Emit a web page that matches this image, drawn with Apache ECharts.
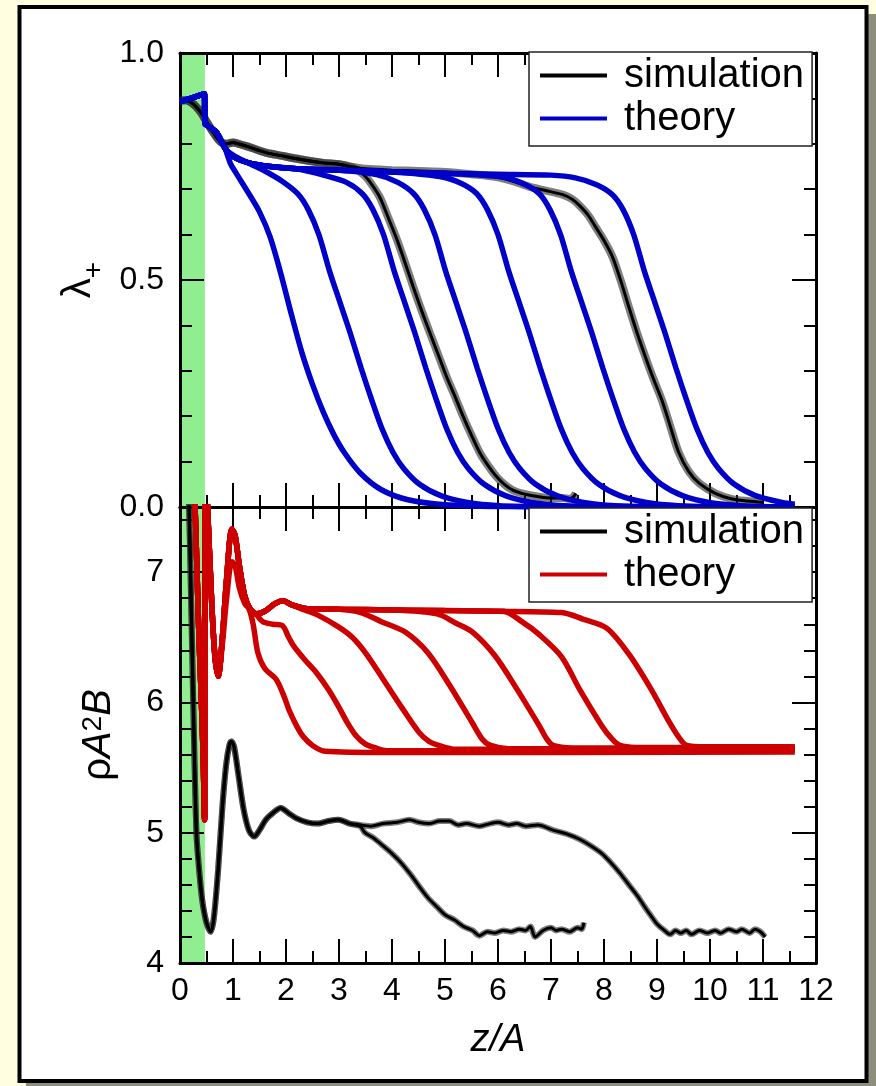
<!DOCTYPE html>
<html lang="en">
<head>
<meta charset="UTF-8">
<title>lambda+ and density profiles</title>
<script src="https://cdn.jsdelivr.net/npm/echarts@6/dist/echarts.min.js"></script>
<style>html,body{margin:0;padding:0;background:#fffee0;}</style>
</head>
<body>
<div id="main" style="width:876px;height:1086px;"></div>
<script>
// axis ticks and labels
const zRange = [0, 12];
const zTickLabels = ['0','1','2','3','4','5','6','7','8','9','10','11','12'];
const lamTickValues = [0, 0.5, 1.0];
const lamTickLabels = ['0.0', '0.5', '1.0'];
const rhoTickValues = [4, 5, 6, 7];
const rhoTickLabels = ['4', '5', '6', '7'];
const wallZ = [0, 0.47];

// upper panel: lambda+ , simulation (two runs)
const lamSim1 = [[0,0.895],[0.1,0.896],[0.2,0.892],[0.3,0.882],[0.4,0.868],[0.47,0.855],[0.6,0.83],[0.75,0.806],[0.88,0.8],[1.0,0.803],[1.1,0.8],[1.25,0.795],[1.45,0.787],[1.64,0.78],[1.9,0.774],[2.26,0.766],[2.7,0.758],[3.0,0.755],[3.2,0.75],[3.35,0.742],[3.5,0.728],[3.65,0.705],[3.78,0.68],[3.93,0.637],[4.09,0.59],[4.25,0.537],[4.4,0.485],[4.56,0.432],[4.72,0.382],[4.88,0.333],[5.03,0.287],[5.19,0.243],[5.34,0.2],[5.5,0.158],[5.66,0.119],[5.82,0.09],[5.97,0.067],[6.12,0.05],[6.28,0.037],[6.45,0.03],[6.6,0.026],[6.8,0.022],[7.0,0.02],[7.22,0.02],[7.35,0.018],[7.42,0.022],[7.47,0.03]];
const lamSim2 = [[0,0.895],[0.1,0.896],[0.2,0.892],[0.3,0.882],[0.4,0.868],[0.47,0.855],[0.6,0.83],[0.75,0.806],[0.88,0.8],[1.0,0.803],[1.1,0.8],[1.25,0.795],[1.45,0.787],[1.64,0.78],[1.9,0.774],[2.26,0.766],[2.7,0.758],[3.0,0.755],[3.2,0.75],[3.5,0.745],[4.0,0.742],[4.5,0.74],[5.0,0.738],[5.5,0.733],[5.97,0.727],[6.3,0.717],[6.6,0.705],[6.9,0.697],[7.22,0.688],[7.4,0.678],[7.53,0.665],[7.7,0.643],[7.84,0.617],[8.0,0.587],[8.16,0.551],[8.32,0.497],[8.47,0.44],[8.62,0.385],[8.78,0.331],[8.93,0.283],[9.09,0.236],[9.25,0.178],[9.41,0.12],[9.6,0.078],[9.8,0.052],[10.1,0.03],[10.4,0.018],[10.7,0.013],[11.0,0.01]];

// upper panel: lambda+ , theory (seven runs)
const lamTh1 = [[0,0.893],[0.2,0.9],[0.38,0.907],[0.46,0.91],[0.47,0.845],[0.55,0.838],[0.69,0.825],[0.85,0.79],[0.95,0.757],[1.05,0.737],[1.3,0.69],[1.5,0.65],[1.7,0.595],[1.9,0.515],[2.1,0.425],[2.3,0.34],[2.5,0.27],[2.7,0.21],[2.9,0.16],[3.1,0.12],[3.4,0.075],[3.8,0.038],[4.3,0.016],[5.0,0.005],[6.0,0.001],[8,0],[11.6,0]];
const lamTh2 = [[0,0.893],[0.2,0.9],[0.38,0.907],[0.46,0.91],[0.47,0.845],[0.55,0.838],[0.69,0.825],[0.85,0.79],[1.0,0.775],[1.3,0.757],[1.6,0.74],[1.92,0.718],[2.22,0.69],[2.42,0.655],[2.62,0.6],[2.82,0.52],[3.02,0.45],[3.22,0.38],[3.42,0.305],[3.62,0.235],[3.82,0.17],[4.02,0.12],[4.22,0.085],[4.52,0.05],[4.92,0.025],[5.42,0.01],[6.02,0.003],[7.0,0.001],[8,0],[11.6,0]];
const lamTh3 = [[0,0.893],[0.2,0.9],[0.38,0.907],[0.46,0.91],[0.47,0.845],[0.55,0.838],[0.69,0.825],[0.85,0.79],[1.0,0.772],[1.3,0.758],[1.7,0.75],[2.2,0.745],[2.74,0.73],[3.14,0.715],[3.44,0.69],[3.64,0.655],[3.84,0.6],[4.04,0.52],[4.24,0.45],[4.44,0.38],[4.64,0.305],[4.84,0.235],[5.04,0.17],[5.24,0.12],[5.44,0.085],[5.74,0.05],[6.14,0.025],[6.64,0.01],[7.24,0.003],[8.5,0],[11.6,0]];
const lamTh4 = [[0,0.893],[0.2,0.9],[0.38,0.907],[0.46,0.91],[0.47,0.845],[0.55,0.838],[0.69,0.825],[0.85,0.79],[1.0,0.772],[1.3,0.758],[1.7,0.75],[2.2,0.745],[3.0,0.742],[3.71,0.732],[4.11,0.715],[4.41,0.69],[4.61,0.655],[4.81,0.6],[5.01,0.52],[5.21,0.45],[5.41,0.38],[5.61,0.305],[5.81,0.235],[6.01,0.17],[6.21,0.12],[6.41,0.085],[6.71,0.05],[7.11,0.025],[7.61,0.01],[8.21,0.003],[9.5,0],[11.6,0]];
const lamTh5 = [[0,0.893],[0.2,0.9],[0.38,0.907],[0.46,0.91],[0.47,0.845],[0.55,0.838],[0.69,0.825],[0.85,0.79],[1.0,0.772],[1.3,0.758],[1.7,0.75],[2.2,0.745],[3.0,0.742],[4.0,0.738],[4.9,0.728],[5.3,0.713],[5.6,0.69],[5.8,0.655],[6.0,0.6],[6.2,0.52],[6.4,0.45],[6.6,0.38],[6.8,0.305],[7.0,0.235],[7.2,0.17],[7.4,0.12],[7.6,0.085],[7.9,0.05],[8.3,0.025],[8.8,0.01],[9.4,0.003],[10.5,0],[11.6,0]];
const lamTh6 = [[0,0.893],[0.2,0.9],[0.38,0.907],[0.46,0.91],[0.47,0.845],[0.55,0.838],[0.69,0.825],[0.85,0.79],[1.0,0.772],[1.3,0.758],[1.7,0.75],[2.2,0.745],[3.0,0.742],[4.0,0.738],[5.0,0.735],[6.08,0.727],[6.48,0.712],[6.78,0.69],[6.98,0.655],[7.18,0.6],[7.38,0.52],[7.58,0.45],[7.78,0.38],[7.98,0.305],[8.18,0.235],[8.38,0.17],[8.58,0.12],[8.78,0.085],[9.08,0.05],[9.48,0.025],[9.98,0.01],[10.58,0.003],[11.6,0]];
const lamTh7 = [[0,0.893],[0.2,0.9],[0.38,0.907],[0.46,0.91],[0.47,0.845],[0.55,0.838],[0.69,0.825],[0.85,0.79],[1.0,0.772],[1.3,0.758],[1.7,0.75],[2.2,0.745],[3.0,0.742],[4.0,0.738],[5.0,0.735],[6.0,0.733],[7.0,0.731],[7.46,0.725],[7.86,0.71],[8.16,0.688],[8.36,0.655],[8.56,0.6],[8.76,0.52],[8.96,0.45],[9.16,0.38],[9.36,0.305],[9.56,0.235],[9.76,0.17],[9.96,0.12],[10.16,0.085],[10.46,0.05],[10.86,0.025],[11.36,0.01],[11.6,0.006]];

// lower panel: rho A^2 B , simulation (two runs)
const rhoSim1 = [[0.16,7.7],[0.19,7.18],[0.25,6.0],[0.31,5.0],[0.36,4.72],[0.42,4.48],[0.5,4.31],[0.58,4.24],[0.64,4.35],[0.72,4.72],[0.8,5.2],[0.87,5.52],[0.93,5.67],[0.97,5.7],[1.02,5.66],[1.1,5.45],[1.2,5.18],[1.3,5.02],[1.4,4.97],[1.5,5.02],[1.62,5.1],[1.75,5.15],[1.9,5.19],[2.05,5.15],[2.2,5.11],[2.4,5.08],[2.6,5.07],[2.8,5.09],[2.99,5.1],[3.2,5.07],[3.4,5.05],[3.49,5.0],[3.65,4.96],[3.83,4.9],[4.0,4.84],[4.17,4.77],[4.35,4.68],[4.51,4.59],[4.68,4.5],[4.85,4.43],[5.0,4.37],[5.18,4.33],[5.35,4.28],[5.52,4.25],[5.65,4.21],[5.8,4.24],[5.94,4.23],[6.1,4.25],[6.25,4.24],[6.4,4.26],[6.52,4.25],[6.61,4.28],[6.7,4.2],[6.85,4.25],[7.0,4.27],[7.1,4.25],[7.2,4.26],[7.35,4.24],[7.5,4.27],[7.58,4.26],[7.62,4.31]];
const rhoSim2 = [[0.16,7.7],[0.19,7.18],[0.25,6.0],[0.31,5.0],[0.36,4.72],[0.42,4.48],[0.5,4.31],[0.58,4.24],[0.64,4.35],[0.72,4.72],[0.8,5.2],[0.87,5.52],[0.93,5.67],[0.97,5.7],[1.02,5.66],[1.1,5.45],[1.2,5.18],[1.3,5.02],[1.4,4.97],[1.5,5.02],[1.62,5.1],[1.75,5.15],[1.9,5.19],[2.05,5.15],[2.2,5.11],[2.4,5.08],[2.6,5.07],[2.8,5.09],[2.99,5.1],[3.2,5.07],[3.4,5.06],[3.6,5.05],[3.83,5.07],[4.1,5.08],[4.33,5.1],[4.5,5.08],[4.7,5.07],[4.9,5.09],[5.08,5.09],[5.25,5.06],[5.4,5.07],[5.65,5.05],[5.85,5.07],[6.0,5.08],[6.2,5.06],[6.35,5.07],[6.53,5.05],[6.75,5.06],[7.04,5.02],[7.3,4.99],[7.54,4.95],[7.75,4.9],[7.96,4.84],[8.13,4.77],[8.3,4.69],[8.47,4.6],[8.64,4.51],[8.77,4.43],[8.89,4.36],[9.0,4.3],[9.14,4.25],[9.25,4.22],[9.35,4.25],[9.45,4.23],[9.55,4.25],[9.65,4.22],[9.8,4.25],[9.95,4.23],[10.1,4.25],[10.2,4.23],[10.35,4.26],[10.5,4.24],[10.6,4.26],[10.75,4.23],[10.85,4.26],[10.95,4.24],[11.04,4.2]];

// lower panel: rho A^2 B , theory (seven runs)
const rhoTh1 = [[0.26,7.8],[0.3,7.3],[0.35,6.6],[0.4,6.05],[0.44,5.55],[0.465,5.1],[0.475,5.1],[0.48,7.8],[0.52,7.5],[0.6,6.75],[0.66,6.35],[0.72,6.2],[0.8,6.45],[0.88,6.8],[0.98,7.08],[1.04,7.05],[1.12,6.88],[1.22,6.76],[1.3,6.72],[1.38,6.6],[1.47,6.38],[1.6,6.26],[1.81,6.18],[1.95,6.06],[2.07,5.93],[2.2,5.82],[2.32,5.74],[2.5,5.67],[2.74,5.625],[3.9,5.615],[11.6,5.62]];
const rhoTh2 = [[0.26,7.8],[0.3,7.3],[0.35,6.6],[0.4,6.05],[0.44,5.55],[0.465,5.1],[0.475,5.1],[0.48,7.8],[0.52,7.5],[0.6,6.75],[0.66,6.35],[0.72,6.2],[0.8,6.5],[0.88,6.95],[0.98,7.33],[1.04,7.28],[1.12,7.05],[1.22,6.82],[1.32,6.72],[1.45,6.67],[1.56,6.62],[1.75,6.6],[1.93,6.59],[2.05,6.5],[2.15,6.43],[2.35,6.33],[2.57,6.23],[2.8,6.1],[2.99,5.97],[3.15,5.85],[3.33,5.74],[3.5,5.68],[3.66,5.655],[3.9,5.63],[11.6,5.63]];
const rhoTh3 = [[0.26,7.8],[0.3,7.3],[0.35,6.6],[0.4,6.05],[0.44,5.55],[0.465,5.1],[0.475,5.1],[0.48,7.8],[0.52,7.5],[0.6,6.75],[0.66,6.35],[0.72,6.2],[0.8,6.5],[0.88,6.95],[0.98,7.33],[1.04,7.28],[1.12,7.05],[1.22,6.82],[1.32,6.72],[1.45,6.68],[1.6,6.7],[1.8,6.76],[1.95,6.78],[2.1,6.75],[2.35,6.71],[2.6,6.67],[2.99,6.58],[3.25,6.5],[3.5,6.38],[3.83,6.18],[4.17,5.97],[4.51,5.77],[4.7,5.7],[4.85,5.675],[5.2,5.64],[11.6,5.64]];
const rhoTh4 = [[0.26,7.8],[0.3,7.3],[0.35,6.6],[0.4,6.05],[0.44,5.55],[0.465,5.1],[0.475,5.1],[0.48,7.8],[0.52,7.5],[0.6,6.75],[0.66,6.35],[0.72,6.2],[0.8,6.5],[0.88,6.95],[0.98,7.33],[1.04,7.28],[1.12,7.05],[1.22,6.82],[1.32,6.72],[1.45,6.68],[1.6,6.7],[1.8,6.76],[1.95,6.78],[2.1,6.75],[2.4,6.72],[3.0,6.715],[3.41,6.69],[3.8,6.62],[4.25,6.54],[4.68,6.38],[5.09,6.13],[5.52,5.84],[5.7,5.72],[5.86,5.67],[6.2,5.645],[11.6,5.645]];
const rhoTh5 = [[0.26,7.8],[0.3,7.3],[0.35,6.6],[0.4,6.05],[0.44,5.55],[0.465,5.1],[0.475,5.1],[0.48,7.8],[0.52,7.5],[0.6,6.75],[0.66,6.35],[0.72,6.2],[0.8,6.5],[0.88,6.95],[0.98,7.33],[1.04,7.28],[1.12,7.05],[1.22,6.82],[1.32,6.72],[1.45,6.68],[1.6,6.7],[1.8,6.76],[1.95,6.78],[2.1,6.75],[2.4,6.72],[3.0,6.715],[4.0,6.71],[4.85,6.68],[5.2,6.61],[5.52,6.54],[5.94,6.36],[6.36,6.1],[6.78,5.82],[6.92,5.72],[7.04,5.67],[7.4,5.65],[11.6,5.65]];
const rhoTh6 = [[0.26,7.8],[0.3,7.3],[0.35,6.6],[0.4,6.05],[0.44,5.55],[0.465,5.1],[0.475,5.1],[0.48,7.8],[0.52,7.5],[0.6,6.75],[0.66,6.35],[0.72,6.2],[0.8,6.5],[0.88,6.95],[0.98,7.33],[1.04,7.28],[1.12,7.05],[1.22,6.82],[1.32,6.72],[1.45,6.68],[1.6,6.7],[1.8,6.76],[1.95,6.78],[2.1,6.75],[2.4,6.72],[3.0,6.715],[4.0,6.71],[5.0,6.705],[6.1,6.7],[6.45,6.62],[6.78,6.52],[7.2,6.35],[7.54,6.1],[7.96,5.82],[8.15,5.72],[8.3,5.67],[8.6,5.655],[11.6,5.655]];
const rhoTh7 = [[0.26,7.8],[0.3,7.3],[0.35,6.6],[0.4,6.05],[0.44,5.55],[0.465,5.1],[0.475,5.1],[0.48,7.8],[0.52,7.5],[0.6,6.75],[0.66,6.35],[0.72,6.2],[0.8,6.5],[0.88,6.95],[0.98,7.33],[1.04,7.28],[1.12,7.05],[1.22,6.82],[1.32,6.72],[1.45,6.68],[1.6,6.7],[1.8,6.76],[1.95,6.78],[2.1,6.75],[2.4,6.72],[3.0,6.715],[4.0,6.71],[5.0,6.705],[6.0,6.7],[7.2,6.69],[7.6,6.64],[8.05,6.57],[8.47,6.37],[8.89,6.1],[9.23,5.85],[9.4,5.74],[9.56,5.67],[9.9,5.66],[11.6,5.66]];

const FONT = "'Liberation Sans', Arial, sans-serif";
const BLUE = '#0000c8';
const RED = '#cc0000';
const HATCH = 'rgba(40,40,40,0.6)';

var myChart = echarts.init(document.getElementById('main'));

function pickLabel(vals, labels) {
    return function (v) {
        const i = vals.findIndex(t => Math.abs(t - v) < 1e-6);
        return i < 0 ? '' : labels[i];
    };
}

// one axis with inward ticks, drawn above the green wall band
function xAx(grid, pos, showLabel) {
    return {
        type: 'value', gridIndex: grid, position: pos, z: 2,
        min: zRange[0], max: zRange[1], interval: 1,
        axisLine: { onZero: false, lineStyle: { color: '#000', width: 3 } },
        axisTick: { inside: true, length: 24, lineStyle: { color: '#000', width: 2 } },
        minorTick: { show: true, splitNumber: 2, length: 12, lineStyle: { color: '#000', width: 2 } },
        splitLine: { show: false },
        axisLabel: {
            show: showLabel, margin: 12, color: '#000', fontSize: 32, fontFamily: FONT,
            formatter: v => zTickLabels[Math.round(v)]
        }
    };
}

function yAx(grid, pos, min, max, interval, len, minor, label) {
    return {
        type: 'value', gridIndex: grid, position: pos, z: 2,
        min: min, max: max, interval: interval,
        axisLine: { onZero: false, lineStyle: { color: '#000', width: 3 } },
        axisTick: { inside: true, length: len, lineStyle: { color: '#000', width: 2 } },
        minorTick: { show: !!minor, splitNumber: minor || 5, length: 12, lineStyle: { color: '#000', width: 2 } },
        splitLine: { show: false },
        axisLabel: label ? {
            show: true, margin: 16, color: '#000', fontSize: 32, fontFamily: FONT,
            showMaxLabel: label.max, formatter: label.fn
        } : { show: false }
    };
}

const xAxes = [xAx(0, 'bottom', false), xAx(0, 'top', false), xAx(1, 'bottom', true), xAx(1, 'top', false)];
xAxes[2].name = 'z/A';
xAxes[2].nameLocation = 'middle';
xAxes[2].nameGap = 58;
xAxes[2].nameTextStyle = { color: '#000', fontSize: 38, fontStyle: 'italic', fontFamily: FONT };

const yAxes = [
    yAx(0, 'left', 0, 1, 0.5, 24, 5, { max: true, fn: pickLabel(lamTickValues, lamTickLabels) }),
    yAx(0, 'right', 0, 1, 0.5, 24, 5, null),
    yAx(1, 'left', 4, 7.5, 1, 24, 0, { max: false, fn: pickLabel(rhoTickValues, rhoTickLabels) }),
    yAx(1, 'left', 4, 7.5, 0.2, 12, 0, null),
    yAx(1, 'right', 4, 7.5, 1, 24, 0, null),
    yAx(1, 'right', 4, 7.5, 0.2, 12, 0, null)
];
yAxes[0].name = '{l|λ}{s|+}';
yAxes[0].nameLocation = 'middle';
yAxes[0].nameRotate = 90;
yAxes[0].nameGap = 80;
yAxes[0].nameTextStyle = {
    color: '#000', fontFamily: FONT,
    rich: {
        l: { fontSize: 40, lineHeight: 40, verticalAlign: 'top', fontFamily: FONT, color: '#000' },
        s: { fontSize: 28, lineHeight: 28, padding: [22, 0, 0, 0], verticalAlign: 'top', fontFamily: FONT, color: '#000' }
    }
};
yAxes[2].name = '{r|ρ}{a|A}{s|2}{a|B}';
yAxes[2].nameLocation = 'middle';
yAxes[2].nameRotate = 90;
yAxes[2].nameGap = 50;
yAxes[2].nameTextStyle = {
    color: '#000', fontFamily: FONT,
    rich: {
        r: { fontSize: 40, lineHeight: 40, verticalAlign: 'bottom', fontFamily: FONT, color: '#000' },
        a: { fontSize: 40, lineHeight: 40, verticalAlign: 'bottom', fontStyle: 'italic', fontFamily: FONT, color: '#000' },
        s: { fontSize: 28, lineHeight: 28, padding: [0, 0, 28, 0], verticalAlign: 'top', fontFamily: FONT, color: '#000' }
    }
};

function line(name, data, xi, yi, color, width, z) {
    return {
        name: name, type: 'line', data: data, xAxisIndex: xi, yAxisIndex: yi,
        showSymbol: false, symbol: 'none', smooth: 0.3, clip: true,
        color: color, z: z, silent: true,
        lineStyle: { color: color, width: width },
        itemStyle: { color: color }
    };
}

function wall(xi, yi) {
    return {
        name: 'wall', type: 'line', xAxisIndex: xi, yAxisIndex: yi, data: [], z: -1, silent: true,
        markArea: { silent: true, z: 1, itemStyle: { color: '#90ee90' }, data: [[{ xAxis: wallZ[0] }, { xAxis: wallZ[1] }]] }
    };
}

const series = [
    wall(0, 0),
    wall(2, 2),
    line('simulation', lamSim1, 0, 0, '#000', 3, 4),
    line('simulation', lamSim2, 0, 0, '#000', 3, 4),
    line('errbar', lamSim1, 0, 0, HATCH, 8, 3),
    line('errbar', lamSim2, 0, 0, HATCH, 8, 3)
];
[lamTh1, lamTh2, lamTh3, lamTh4, lamTh5, lamTh6, lamTh7].forEach(d => series.push(line('theory', d, 0, 0, BLUE, 5.5, 5)));
series.push(line('errbar', rhoSim1, 2, 2, HATCH, 6, 3));
series.push(line('errbar', rhoSim2, 2, 2, HATCH, 6, 3));
series.push(line('simulation', rhoSim1, 2, 2, '#000', 3, 4));
series.push(line('simulation', rhoSim2, 2, 2, '#000', 3, 4));
[rhoTh1, rhoTh2, rhoTh3, rhoTh4, rhoTh5, rhoTh6, rhoTh7].forEach(d => series.push(line('theory|r', d, 2, 2, RED, 5.5, 5)));

function legendBox(top, names) {
    return {
        data: names, orient: 'vertical', left: 529, top: top, z: 10,
        padding: [2, 8, 6, 11], itemGap: 0, itemWidth: 67, itemHeight: 4, icon: 'rect',
        selectedMode: false, backgroundColor: '#fff', borderColor: '#222', borderWidth: 1.5,
        formatter: n => n.split('|')[0],
        textStyle: { color: '#000', fontSize: 40, lineHeight: 43, fontFamily: FONT, padding: [0, 0, 0, 12] }
    };
}

let option = {
    backgroundColor: '#fffee0',
    animation: false,
    graphic: [
        // drop shadow of the frame
        { type: 'rect', z: -101, silent: true, shape: { x: 26, y: 14, width: 850, height: 1074 }, style: { fill: '#8e8e7c' } },
        // white frame
        { type: 'rect', z: -100, silent: true, shape: { x: 19.5, y: 7, width: 847, height: 1074 }, style: { fill: '#fff', stroke: '#000', lineWidth: 4 } }
    ],
    grid: [
        { left: 180, top: 53, width: 636, height: 454, outerBoundsMode: 'none' },
        { left: 180, top: 507, width: 636, height: 456, outerBoundsMode: 'none' }
    ],
    legend: [legendBox(52, ['simulation', 'theory']), legendBox(508, ['simulation', 'theory|r'])],
    xAxis: xAxes,
    yAxis: yAxes,
    series: series
};

myChart.setOption(option);
</script>
</body>
</html>
